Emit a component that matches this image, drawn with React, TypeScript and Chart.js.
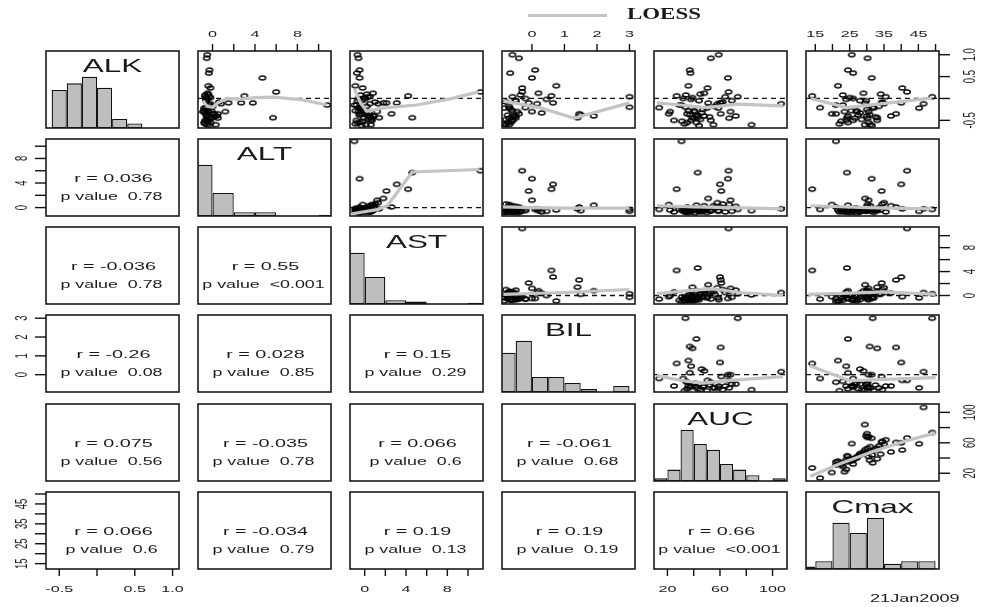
import React, { useEffect, useRef } from 'react';
import { Chart, registerables } from 'chart.js';

Chart.register(...registerables);

// ---------------- data ----------------
const VARS = ['ALK', 'ALT', 'AST', 'BIL', 'AUC', 'Cmax'];
const RANGE_MIN = [-0.675, -1.37, -1.42, -0.92, 9.8, 12.3];
const RANGE_MAX = [1.085, 11.17, 11.45, 3.17, 111, 51];

const ALK = [-0.15, 0.15, -0.44, 0.47, -0.1, 0.06, -0.1, -0.3, 1.0, 0.92, 0.65, 0.58, 0.29, 0.24, 0.04, -0.2, -0.4, -0.37, -0.44, -0.35, -0.12, -0.6, -0.4, -0.22, -0.4, -0.21, -0.35, -0.5, -0.3, -0.05, -0.45, -0.55, -0.5, -0.48, -0.58, -0.42, -0.3, -0.25, -0.18, -0.05, 0.02, 0.08, 0.12, -0.08, -0.52, -0.38, -0.28, -0.15, -0.6, -0.45, -0.33, 0.0, 0.1, -0.22, -0.12, -0.55, -0.02, -0.5, -0.35, -0.62, 0.04, -0.28, -0.1];
const ALT = [10.8, 6.0, 5.7, 4.7, 3.8, 3.0, 2.7, 1.2, -0.5, -0.55, -0.3, -0.35, -0.4, -0.2, -0.3, -0.6, 0.4, -0.5, -0.2, 0.1, -0.2, -0.5, 0.2, -0.6, 0.3, -0.3, 0.5, -0.7, -0.4, -0.6, 0.5, -0.8, -0.6, -0.3, -0.7, -0.5, -0.9, -0.4, 0.0, -0.6, -0.2, -0.7, -0.5, 0.6, -0.4, -0.6, -0.8, -0.3, 0.3, -0.1, -0.7, -0.5, -0.4, -0.8, 0.8, -0.2, -0.6, -0.5, 0.1, -0.3, -0.7, -0.1, 1.5];
const AST = [-1.0, 11.2, 4.6, -0.5, 3.1, 4.2, 2.1, 1.2, -0.7, -0.6, -0.5, -0.75, -0.9, -0.2, 0.3, -0.3, 0.8, 0.2, 1.4, 2.6, 0.5, 0.1, 0.9, -0.4, 0.4, -0.6, -0.2, 0.6, 0.0, -0.3, 0.7, -0.5, -0.8, 0.3, -0.9, 0.5, -0.6, -0.3, 0.2, -0.7, 0.0, -0.4, 0.8, 1.0, -0.2, -0.5, 0.1, -0.8, 0.6, -0.1, 0.4, -0.6, 0.2, -0.4, 1.3, -0.7, 0.0, 0.7, -0.5, -0.3, 0.5, -0.9, 1.8];
const BIL = [null, -0.3, null, 0.0, 0.65, 0.6, -0.1, 0.0, -0.6, -0.4, 0.1, -0.67, 0.75, -0.3, 3.0, 3.0, 1.9, 1.5, 1.4, 1.45, 0.16, -0.8, -0.5, -0.7, -0.6, -0.2, null, -0.6, null, -0.5, -0.7, -0.75, -0.6, -0.8, -0.85, -0.55, -0.45, -0.65, -0.7, -0.5, null, -0.35, 0.2, -0.8, null, -0.75, -0.6, null, -0.7, -0.5, 0.3, -0.2, null, -0.85, null, -0.65, 0.45, null, -0.4, null, -0.6, null, null];
const AUC = [30.7, 66.5, 43, 66, 60, 27, 61, 68, 59, 53, 37, 37.5, 36, 50.5, 73.5, 33.7, 42, 37, 39, 60.5, 106.5, 84, 72, 58.7, 48, 13.7, 21, 25, 22, 69, 67, 35, 38, 45, 33, 52, 41, 47, 56, 44, 39, 34, 48, 62, 31, 43, 36, 29, 55, 40, 46, 32, 45, 50, 58, 42, 38, 53, 35, 44, 64, 40, 51];
const CMAX = [21.0, 41.7, 24.2, 31.4, 40.0, 14.1, 34.3, 30.5, 25.6, 30.2, 24.5, 26.0, 21.6, 40.3, 49.0, 31.7, 24.5, 30.8, 33.0, 38.5, 46.5, 29.4, 30.0, 45.2, 37.0, 16.4, 19.8, 24.0, 23.5, 29.8, 30.2, 24.5, 26.0, 28.5, 22.0, 32.5, 27.0, 30.0, 33.5, 28.0, 25.0, 23.0, 29.0, 34.5, 22.5, 27.5, 25.5, 23.0, 31.0, 26.5, 28.0, 26.0, 34.0, 32.0, 35.0, 30.5, 24.0, 33.0, 21.0, 31.5, 35.5, 27.0, 29.5];
const DATA = [ALK, ALT, AST, BIL, AUC, CMAX];

// histogram bins and counts (diagonal)
const ALK_BREAKS = [-0.6, -0.4, -0.2, 0, 0.2, 0.4, 0.6, 0.8, 1.0, 1.2];
const ALK_COUNTS = [17, 20, 23, 18, 4, 2, 0, 0, 0];
const ALT_BREAKS = [-2, 0, 2, 4, 6, 8, 10, 12];
const ALT_COUNTS = [40, 18, 3, 3, 0, 0, 1];
const AST_BREAKS = [-2, 0, 2, 4, 6, 8, 10, 12];
const AST_COUNTS = [40, 21, 3, 2, 0, 0, 1];
const BIL_BREAKS = [-1, -0.5, 0, 0.5, 1, 1.5, 2, 2.5, 3];
const BIL_COUNTS = [13, 17, 5, 5, 3, 1, 0, 2];
const AUC_BREAKS = [10, 20, 30, 40, 50, 60, 70, 80, 90, 100, 110];
const AUC_COUNTS = [1, 4, 18, 13, 11, 6, 4, 2, 0, 1];
const CMAX_BREAKS = [10, 15, 20, 25, 30, 35, 40, 45, 50];
const CMAX_COUNTS = [1, 3, 18, 14, 20, 2, 3, 3];
const HIST_BREAKS = [ALK_BREAKS, ALT_BREAKS, AST_BREAKS, BIL_BREAKS, AUC_BREAKS, CMAX_BREAKS];
const HIST_COUNTS = [ALK_COUNTS, ALT_COUNTS, AST_COUNTS, BIL_COUNTS, AUC_COUNTS, CMAX_COUNTS];

// LOESS curves (upper panels)
const LOESS_ALK_ALT_X = [-0.9, -0.5, 0, 0.5, 1.4, 2.5, 4, 5.8, 8.4, 10.8];
const LOESS_ALK_ALT_Y = [-0.05, -0.18, -0.2, -0.1, 0.0, -0.02, 0.02, 0.03, -0.03, -0.15];
const LOESS_ALK_AST_X = [-1.0, -0.4, 0.2, 1.7, 5.0, 8.3, 11];
const LOESS_ALK_AST_Y = [0.22, -0.1, -0.29, -0.22, -0.15, -0.01, 0.15];
const LOESS_ALK_BIL_X = [-0.88, 0.24, 1.3, 3.0];
const LOESS_ALK_BIL_Y = [-0.06, -0.21, -0.45, -0.1];
const LOESS_ALK_AUC_X = [12, 30, 50, 73, 108];
const LOESS_ALK_AUC_Y = [-0.1, -0.15, -0.21, -0.13, -0.17];
const LOESS_ALK_CMAX_X = [13.6, 24.2, 36.6, 49];
const LOESS_ALK_CMAX_Y = [0.0, -0.21, -0.1, 0.01];
const LOESS_ALT_AST_X = [-1.2, 1.2, 2.2, 4.6, 11.1];
const LOESS_ALT_AST_Y = [-1.0, -0.33, 0.33, 5.8, 6.2];
const LOESS_ALT_BIL_X = [-0.9, 0, 1, 2, 3];
const LOESS_ALT_BIL_Y = [0.1, 0.0, -0.1, -0.1, -0.1];
const LOESS_ALT_AUC_X = [12, 40, 70, 108];
const LOESS_ALT_AUC_Y = [0.3, 0.1, 0.0, -0.2];
const LOESS_ALT_CMAX_X = [13.6, 30, 49];
const LOESS_ALT_CMAX_Y = [0.3, 0.0, -0.2];
const LOESS_AST_BIL_X = [-0.88, 1, 3.0];
const LOESS_AST_BIL_Y = [0.2, 0.5, 1.0];
const LOESS_AST_AUC_X = [12, 40, 55, 75, 108];
const LOESS_AST_AUC_Y = [0.3, 0.9, 1.1, 0.5, 0.0];
const LOESS_AST_CMAX_X = [13, 25, 35, 50];
const LOESS_AST_CMAX_Y = [0.2, 0.4, 0.6, 0.2];
const LOESS_BIL_AUC_X = [12, 30, 47, 68, 108];
const LOESS_BIL_AUC_Y = [-0.05, -0.3, -0.45, -0.3, -0.1];
const LOESS_BIL_CMAX_X = [13.4, 25, 50];
const LOESS_BIL_CMAX_Y = [0.48, -0.32, -0.16];
const LOESS_AUC_CMAX_X = [13.6, 22, 32, 41, 50];
const LOESS_AUC_CMAX_Y = [16, 32, 49, 62, 73];

const LOESS: Record<string, number[][]> = {
  '0-1': [LOESS_ALK_ALT_X, LOESS_ALK_ALT_Y],
  '0-2': [LOESS_ALK_AST_X, LOESS_ALK_AST_Y],
  '0-3': [LOESS_ALK_BIL_X, LOESS_ALK_BIL_Y],
  '0-4': [LOESS_ALK_AUC_X, LOESS_ALK_AUC_Y],
  '0-5': [LOESS_ALK_CMAX_X, LOESS_ALK_CMAX_Y],
  '1-2': [LOESS_ALT_AST_X, LOESS_ALT_AST_Y],
  '1-3': [LOESS_ALT_BIL_X, LOESS_ALT_BIL_Y],
  '1-4': [LOESS_ALT_AUC_X, LOESS_ALT_AUC_Y],
  '1-5': [LOESS_ALT_CMAX_X, LOESS_ALT_CMAX_Y],
  '2-3': [LOESS_AST_BIL_X, LOESS_AST_BIL_Y],
  '2-4': [LOESS_AST_AUC_X, LOESS_AST_AUC_Y],
  '2-5': [LOESS_AST_CMAX_X, LOESS_AST_CMAX_Y],
  '3-4': [LOESS_BIL_AUC_X, LOESS_BIL_AUC_Y],
  '3-5': [LOESS_BIL_CMAX_X, LOESS_BIL_CMAX_Y],
  '4-5': [LOESS_AUC_CMAX_X, LOESS_AUC_CMAX_Y],
};

// correlation text (lower panels), row-major order
const R_TEXT = ['0.036', '-0.036', '0.55', '-0.26', '0.028', '0.15', '0.075', '-0.035', '0.066', '-0.061', '0.066', '-0.034', '0.19', '0.19', '0.66'];
const P_TEXT = ['0.78', '0.78', '<0.001', '0.08', '0.85', '0.29', '0.56', '0.78', '0.6', '0.68', '0.6', '0.79', '0.13', '0.19', '<0.001'];

// axis ticks
const ALK_TICKS = [-0.5, 0, 0.5, 1.0];
const ALK_LABELS = ['-0.5', '', '0.5', '1.0'];
const ALT_TICKS = [0, 2, 4, 6, 8, 10];
const ALT_LABELS = ['0', '', '4', '', '8', ''];
const AST_TICKS = [0, 2, 4, 6, 8, 10];
const AST_LABELS = ['0', '', '4', '', '8', ''];
const BIL_TICKS = [0, 1, 2, 3];
const BIL_LABELS = ['0', '1', '2', '3'];
const AUC_TICKS = [20, 40, 60, 80, 100];
const AUC_LABELS = ['20', '', '60', '', '100'];
const CMAX_TICKS = [15, 20, 25, 30, 35, 40, 45, 50];
const CMAX_LABELS = ['15', '', '25', '', '35', '', '45', ''];
const TICKS = [ALK_TICKS, ALT_TICKS, AST_TICKS, BIL_TICKS, AUC_TICKS, CMAX_TICKS];
const LABELS = [ALK_LABELS, ALT_LABELS, AST_LABELS, BIL_LABELS, AUC_LABELS, CMAX_LABELS];

// ---------------- layout ----------------
const COL_LEFT = [46, 198, 350, 502, 654, 806];
const ROW_TOP = [51, 139, 227, 315, 404, 492];
const PW = 133;
const PH = 77;
const M = 45;
const SX = 1.7;
const FONT = '"Liberation Sans", Arial, sans-serif';

let ringImg: HTMLCanvasElement | null = null;
function getRing() {
  if (ringImg) return ringImg;
  const c = document.createElement('canvas');
  c.width = 10;
  c.height = 8;
  const ctx = c.getContext('2d')!;
  ctx.strokeStyle = '#000';
  ctx.lineWidth = 1.45;
  ctx.beginPath();
  ctx.ellipse(5, 4, 3.2, 2.0, 0, 0, Math.PI * 2);
  ctx.stroke();
  ringImg = c;
  return c;
}

function sText(ctx: CanvasRenderingContext2D, text: string, x: number, y: number, font: string, rotate = false, baseline: CanvasTextBaseline = 'middle', sx = SX) {
  ctx.save();
  ctx.translate(x, y);
  ctx.scale(sx, 1);
  if (rotate) ctx.rotate(-Math.PI / 2);
  ctx.font = font;
  ctx.textAlign = 'center';
  ctx.textBaseline = baseline;
  ctx.fillStyle = '#1a1a1a';
  ctx.fillText(text, 0, 0);
  ctx.restore();
}

function drawAxis(chart: any, side: string, v: number) {
  const ctx: CanvasRenderingContext2D = chart.ctx;
  const a = chart.chartArea;
  const ticks = TICKS[v];
  const labels = LABELS[v];
  ctx.save();
  ctx.strokeStyle = '#111';
  ctx.lineWidth = 1.4;
  for (let i = 0; i < ticks.length; i++) {
    if (side === 'top' || side === 'bottom') {
      const x = chart.scales.x.getPixelForValue(ticks[i]);
      const y0 = side === 'top' ? a.top : a.bottom;
      const y1 = side === 'top' ? a.top - 7 : a.bottom + 7;
      ctx.beginPath();
      ctx.moveTo(x, y0);
      ctx.lineTo(x, y1);
      ctx.stroke();
      if (labels[i]) sText(ctx, labels[i], x, side === 'top' ? a.top - 17 : a.bottom + 20, '9.5px ' + FONT);
    } else {
      const y = chart.scales.y.getPixelForValue(ticks[i]);
      const x0 = side === 'left' ? a.left : a.right;
      const x1 = side === 'left' ? a.left - 11 : a.right + 11;
      ctx.beginPath();
      ctx.moveTo(x0, y);
      ctx.lineTo(x1, y);
      ctx.stroke();
      if (labels[i]) sText(ctx, labels[i], side === 'left' ? a.left - 23 : a.right + 32, y, '9.5px ' + FONT, true);
    }
  }
  ctx.restore();
}

function makePlugin(r: number, c: number) {
  return {
    id: 'deco' + r + c,
    beforeDatasetsDraw(chart: any) {
      if (c > r) {
        const ys = chart.scales.y;
        if (0 >= ys.min && 0 <= ys.max) {
          const a = chart.chartArea;
          const y = ys.getPixelForValue(0);
          const ctx = chart.ctx;
          ctx.save();
          ctx.strokeStyle = '#111';
          ctx.lineWidth = 1.3;
          ctx.setLineDash([5, 4]);
          ctx.beginPath();
          ctx.moveTo(a.left, y);
          ctx.lineTo(a.right, y);
          ctx.stroke();
          ctx.restore();
        }
      }
    },
    afterDraw(chart: any) {
      const ctx: CanvasRenderingContext2D = chart.ctx;
      const a = chart.chartArea;
      ctx.save();
      ctx.strokeStyle = '#1a1a1a';
      ctx.lineWidth = 1.6;
      ctx.strokeRect(a.left, a.top, a.right - a.left, a.bottom - a.top);
      ctx.restore();
      const cx = (a.left + a.right) / 2;
      const cy = (a.top + a.bottom) / 2;
      if (r === c) {
        sText(ctx, VARS[r], cx, a.top + 21, '18.5px ' + FONT, false, 'alphabetic');
      } else if (r > c) {
        const idx = (r * (r - 1)) / 2 + c;
        sText(ctx, 'r = ' + R_TEXT[idx], cx + 1, cy + 1, '11.5px ' + FONT, false, 'middle', 1.72);
        sText(ctx, 'p value  ' + P_TEXT[idx], cx - 1, cy + 19, '11.5px ' + FONT, false, 'middle', 1.55);
      }
      if (r === 0 && (c === 1 || c === 3 || c === 5)) drawAxis(chart, 'top', c);
      if (r === 5 && (c === 0 || c === 2 || c === 4)) drawAxis(chart, 'bottom', c);
      if (c === 0 && (r === 1 || r === 3 || r === 5)) drawAxis(chart, 'left', r);
      if (c === 5 && (r === 0 || r === 2 || r === 4)) drawAxis(chart, 'right', r);
    },
  };
}

function buildConfig(r: number, c: number): any {
  const base: any = {
    animation: false,
    responsive: false,
    maintainAspectRatio: false,
    devicePixelRatio: 1,
    events: [],
    layout: { padding: M },
    plugins: { legend: { display: false }, tooltip: { enabled: false }, title: { display: false } },
  };
  if (r === c) {
    const br = HIST_BREAKS[r];
    const counts = HIST_COUNTS[r];
    const maxC = Math.max(...counts);
    return {
      type: 'bar',
      data: {
        datasets: [{
          data: counts.map((v, i) => ({ x: (br[i] + br[i + 1]) / 2, y: v })),
          backgroundColor: '#bebebe',
          borderColor: '#111',
          borderWidth: 1.3,
          borderSkipped: false,
          barPercentage: 1,
          categoryPercentage: 1,
          inflateAmount: 0,
        }],
      },
      options: {
        ...base,
        scales: {
          x: {
            type: 'linear', display: false, offset: false, grid: { offset: false },
            min: RANGE_MIN[c], max: RANGE_MAX[c],
            afterBuildTicks: (s: any) => { s.ticks = br.map((v) => ({ value: v })); },
          },
          y: { type: 'linear', display: false, min: 0, max: maxC * 1.5 },
        },
      },
      plugins: [makePlugin(r, c)],
    };
  }
  const datasets: any[] = [];
  if (c > r) {
    const xs = DATA[c];
    const ys = DATA[r];
    const pts: any[] = [];
    for (let k = 0; k < xs.length; k++) {
      if (xs[k] === null || ys[k] === null) continue;
      pts.push({ x: xs[k], y: ys[k] });
    }
    const lo = LOESS[r + '-' + c];
    datasets.push({
      data: lo[0].map((x, i) => ({ x, y: lo[1][i] })),
      showLine: true,
      borderColor: '#c4c4c4',
      borderWidth: 3.2,
      pointRadius: 0,
      tension: 0,
      order: 0,
    });
    datasets.push({
      data: pts,
      pointStyle: getRing(),
      pointRadius: 3,
      showLine: false,
      order: 1,
    });
  }
  return {
    type: 'scatter',
    data: { datasets },
    options: {
      ...base,
      scales: {
        x: { type: 'linear', display: false, min: RANGE_MIN[c], max: RANGE_MAX[c] },
        y: { type: 'linear', display: false, min: RANGE_MIN[r], max: RANGE_MAX[r] },
      },
    },
    plugins: [makePlugin(r, c)],
  };
}

function Panel({ r, c }: { r: number; c: number }) {
  const ref = useRef<HTMLCanvasElement>(null);
  useEffect(() => {
    const chart = new Chart(ref.current as HTMLCanvasElement, buildConfig(r, c));
    return () => chart.destroy();
  }, [r, c]);
  const w = PW + 2 * M;
  const h = PH + 2 * M;
  return (
    <canvas
      ref={ref}
      width={w}
      height={h}
      style={{ position: 'absolute', left: COL_LEFT[c] - M, top: ROW_TOP[r] - M, width: w, height: h }}
    />
  );
}

export default function App() {
  const cells: any[] = [];
  for (let r = 0; r < 6; r++) for (let c = 0; c < 6; c++) cells.push(<Panel key={r + '-' + c} r={r} c={c} />);
  return (
    <div style={{ position: 'absolute', left: 0, top: 0, width: 986, height: 607, overflow: 'hidden', background: '#fff' }}>
      {cells}
      <div style={{ position: 'absolute', left: 528, top: 14, width: 79, height: 3, background: '#c4c4c4' }} />
      <span
        style={{
          position: 'absolute', left: 627, top: 5, font: 'bold 17.5px "Liberation Serif", serif', lineHeight: '17.5px',
          transform: 'scaleX(1.31)', transformOrigin: 'left top', color: '#1a1a1a', whiteSpace: 'pre',
        }}
      >
        LOESS
      </span>
      <span
        style={{
          position: 'absolute', left: 870, top: 592, font: '11.7px ' + FONT, lineHeight: '11.7px',
          transform: 'scaleX(1.55)', transformOrigin: 'left top', color: '#1a1a1a', whiteSpace: 'pre',
        }}
      >
        21Jan2009
      </span>
    </div>
  );
}
